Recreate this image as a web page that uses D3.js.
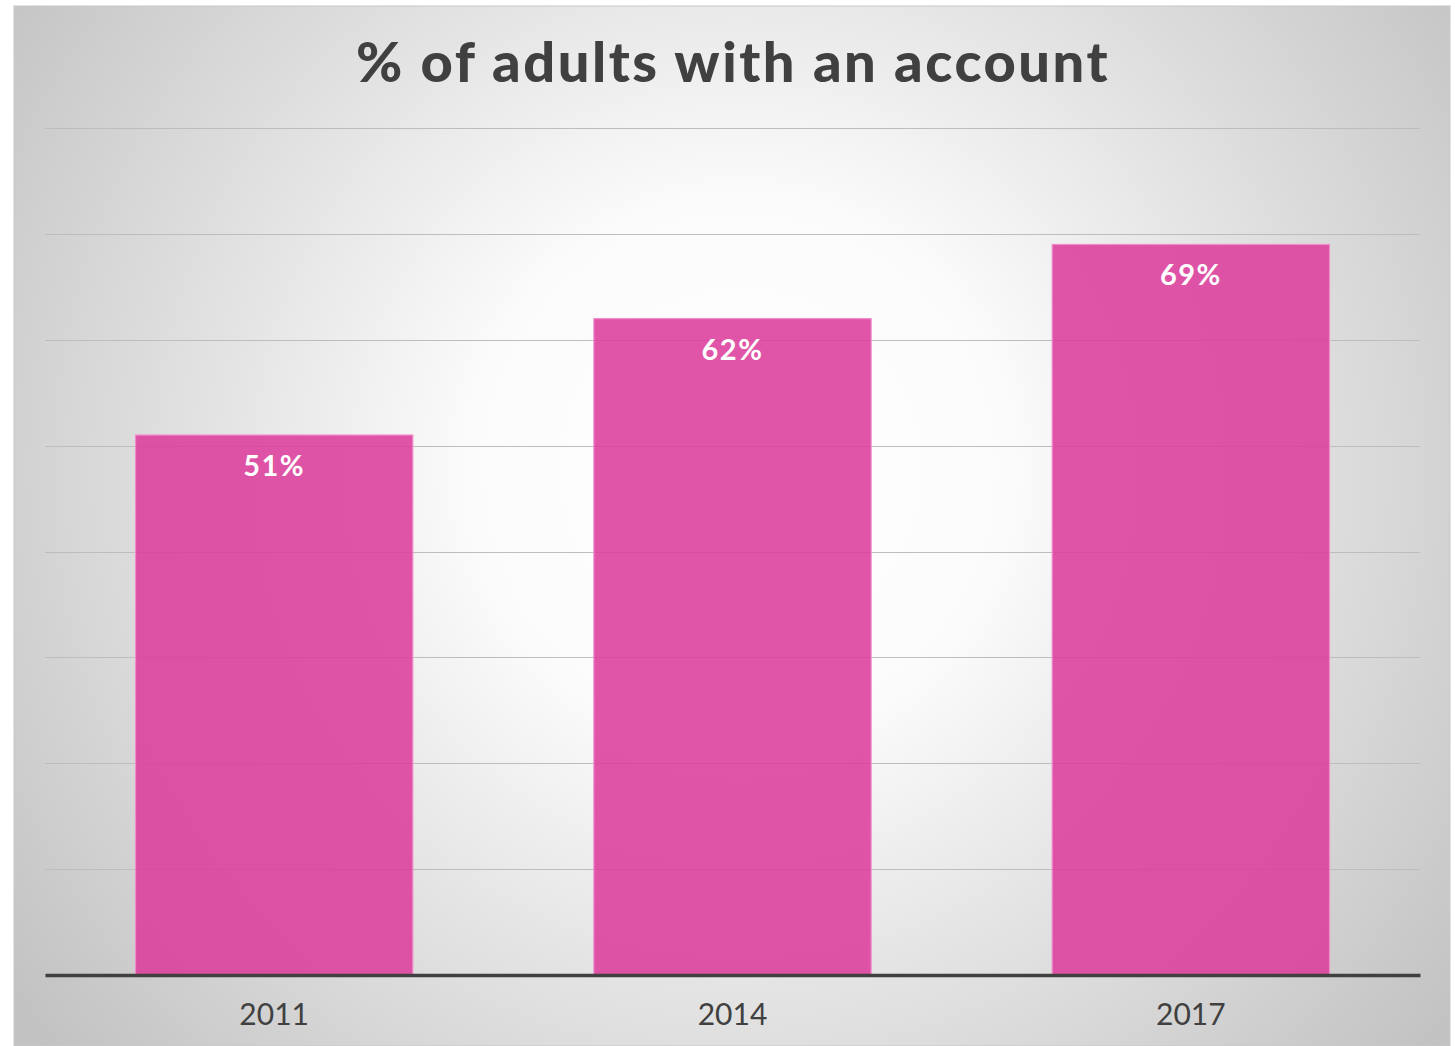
<!DOCTYPE html>
<html>
<head>
<meta charset="utf-8">
<script src="https://cdn.jsdelivr.net/npm/d3@7"></script>
<style>
  html, body { margin: 0; padding: 0; background: #ffffff; }
  svg { display: block; }
</style>
</head>
<body>
<svg id="chart" width="1455" height="1046"></svg>
<script>
// Account ownership by survey year
const years = ["2011", "2014", "2017"];
const shares = [51, 62, 69];
const gridTicks = [10, 20, 30, 40, 50, 60, 70, 80];
const titleText = "% of adults with an account";

const svg = d3.select("#chart");
const frame = { x: 14, y: 6, w: 1436, h: 1040 };
const plot = { left: 45, right: 1420, top: 128, bottom: 975 };

// Soft radial background
const defs = svg.append("defs");
const grad = defs.append("radialGradient")
  .attr("id", "bg")
  .attr("gradientUnits", "userSpaceOnUse")
  .attr("cx", 740).attr("cy", 470).attr("r", 900);
grad.append("stop").attr("offset", "0").attr("stop-color", "#ffffff");
grad.append("stop").attr("offset", "0.3").attr("stop-color", "#fbfbfb");
grad.append("stop").attr("offset", "0.6").attr("stop-color", "#e2e2e2");
grad.append("stop").attr("offset", "1").attr("stop-color", "#c2c2c2");

svg.append("rect")
  .attr("x", frame.x).attr("y", frame.y)
  .attr("width", frame.w).attr("height", frame.h)
  .attr("fill", "url(#bg)")
  .attr("stroke", "#c8c8c8").attr("stroke-width", 1);

const x = d3.scaleBand()
  .domain(years)
  .range([plot.left, plot.right])
  .paddingInner(0.395)
  .paddingOuter(0.1975);

const y = d3.scaleLinear()
  .domain([0, 80])
  .range([plot.bottom, plot.top]);

// Horizontal gridlines
svg.append("g")
  .selectAll("line")
  .data(gridTicks)
  .join("line")
  .attr("x1", plot.left).attr("x2", plot.right)
  .attr("y1", d => Math.round(y(d)) + 0.5)
  .attr("y2", d => Math.round(y(d)) + 0.5)
  .attr("stroke", "#bdbdbd")
  .attr("stroke-width", 1);

// Bars
svg.append("g")
  .selectAll("rect")
  .data(shares)
  .join("rect")
  .attr("x", (d, i) => x(years[i]))
  .attr("y", d => y(d))
  .attr("width", x.bandwidth())
  .attr("height", d => y(0) - y(d))
  .attr("fill", "#dd3d9c")
  .attr("fill-opacity", 0.88)
  .attr("stroke", "#f08ccb")
  .attr("stroke-width", 1.2);

// Value labels inside bar tops
svg.append("g")
  .selectAll("text")
  .data(shares)
  .join("text")
  .attr("x", (d, i) => x(years[i]) + x.bandwidth() / 2)
  .attr("y", d => y(d) + 41)
  .attr("text-anchor", "middle")
  .attr("font-family", "Lato, 'Open Sans', sans-serif")
  .attr("font-weight", "bold")
  .attr("font-size", 29)
  .attr("letter-spacing", 1.5)
  .attr("fill", "#ffffff")
  .text(d => d + "%");

// Baseline axis
const xAxis = svg.append("g")
  .attr("transform", `translate(0,${plot.bottom})`)
  .call(d3.axisBottom(x).tickSize(0).tickPadding(29));
xAxis.select(".domain")
  .attr("stroke", "#404040")
  .attr("stroke-width", 3.5);
xAxis.selectAll("text")
  .attr("font-family", "Lato, 'Open Sans', sans-serif")
  .attr("font-size", 30)
  .attr("fill", "#404040")
  .attr("dy", "0.71em");

// Title
svg.append("text")
  .attr("x", 733)
  .attr("y", 82)
  .attr("text-anchor", "middle")
  .attr("font-family", "Lato, 'Open Sans', sans-serif")
  .attr("font-weight", 900)
  .attr("font-size", 56)
  .attr("letter-spacing", 2.5)
  .attr("fill", "#404040")
  .text(titleText);
</script>
</body>
</html>
